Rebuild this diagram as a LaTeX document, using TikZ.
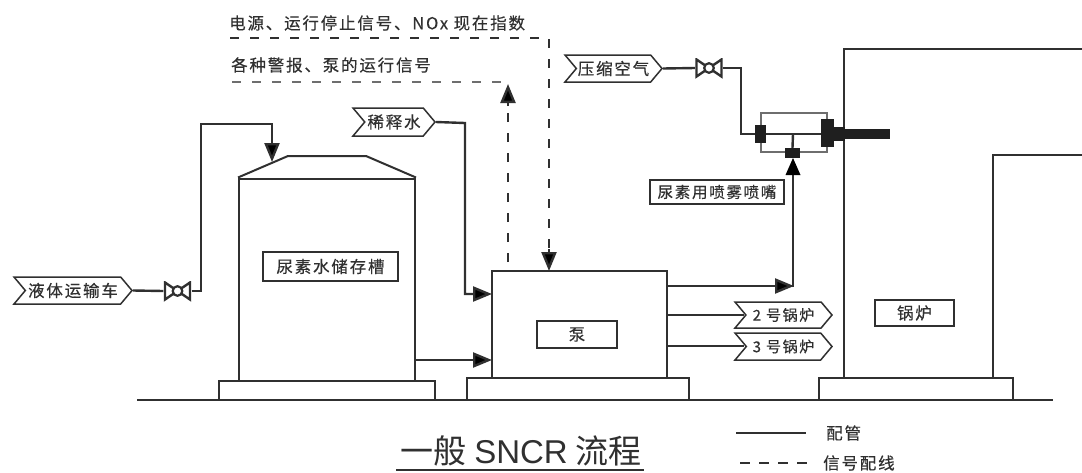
\documentclass[tikz,border=0pt]{standalone}
\usepackage{fontspec}
\setmainfont{Noto Sans CJK SC}
\newfontfamily\lbl[LetterSpace=11,FakeBold=0.35]{Noto Sans CJK SC}
\newfontfamily\latn{Liberation Sans}
\usetikzlibrary{arrows.meta,shapes.symbols,calc}
\definecolor{ink}{HTML}{303030}
\tikzset{
  every node/.style={text=ink,inner sep=0pt,font=\lbl\fontsize{16.5}{16.5}\selectfont},
  outline/.style={draw=ink,line width=2pt,line join=miter},
  thinout/.style={draw=ink!70,line width=1.3pt},
  pipe/.style={draw=ink,line width=2.4pt,line join=miter},
  sig/.style={draw=ink,line width=1.8pt,dash pattern=on 9pt off 11pt},
  sigb/.style={draw=ink!70,line width=2.2pt,dash pattern=on 9pt off 11pt},
  head/.style={-{Triangle[length=19pt,width=15pt,fill=black]}},
  labelbox/.style={draw=ink,line width=1.8pt,anchor=center},
  tagbox/.style={signal,signal from=west,signal to=east,signal pointer angle=100,draw=ink,line width=1.5pt,anchor=center},
  solid block/.style={fill=black!88,draw=none},
  valvebox/.style={minimum width=28pt,minimum height=20pt,anchor=center,
    path picture={
      \draw[ink,line width=2.4pt] ($(path picture bounding box.north west)+(1.5,1.5)$) -- ($(path picture bounding box.south east)+(-1.5,-1.5)$) -- ($(path picture bounding box.north east)+(-1.5,1.5)$) -- ($(path picture bounding box.south west)+(1.5,-1.5)$) -- cycle;
      \draw[ink,line width=2.2pt,fill=white] (path picture bounding box.center) circle (4.8pt);
    }},
}
\begin{document}
\begin{tikzpicture}[x=1pt,y=-1pt]
\useasboundingbox[fill=white] (0,0) rectangle (1082,472);
% ground and bases
\coordinate (g1) at (137,400); \coordinate (g2) at (1053,400);
\draw[outline] (g1) -- (g2);
\draw[outline] (219,400) -- (219,381) -- (435,381) -- (435,400);
\draw[outline] (467,400) -- (467,378) -- (689,378) -- (689,400);
\draw[outline] (819,400) -- (819,378) -- (1013,378) -- (1013,400);
% tank
\node[minimum width=176pt,minimum height=202pt,draw=ink,line width=2pt,anchor=center] (tank) at (327,279.5) {};
\draw[outline] (tank.north west) -- (288,156) -- (366,156) -- (tank.north east);
% pump
\node[minimum width=175pt,minimum height=107pt,draw=ink,line width=2pt,anchor=center] (pump) at (579.5,324.5) {};
% boiler
\draw[outline] (844,378) -- (844,49) -- (1082,49);
\draw[outline] (993,378) -- (993,155) -- (1082,155);
% labels in boxes
\node[labelbox,minimum width=135pt,minimum height=29pt] (tankl) at (330.5,266.5) {尿素水储存槽};
\node[labelbox,minimum width=80pt,minimum height=27pt] (pumpl) at (577,334.5) {泵};
\node[labelbox,minimum width=79pt,minimum height=26pt] (boill) at (914.5,313) {锅炉};
\node[labelbox,minimum width=134pt,minimum height=24pt] (nozl) at (717,192) {\fontsize{15.5}{15.5}\selectfont 尿素用喷雾喷嘴};
% tags
\node[tagbox,minimum width=118pt,minimum height=27pt] (truck) at (73,290.5) {液体运输车};
\node[tagbox,minimum width=82pt,minimum height=28pt] (dil) at (394,122) {稀释水};
\node[tagbox,minimum width=97pt,minimum height=27pt] (air) at (613.5,68.5) {压缩空气};
\node[tagbox,minimum width=97pt,minimum height=26pt] (b2) at (783.5,315) {\fontsize{15}{15}\selectfont 2 号锅炉};
\node[tagbox,minimum width=97pt,minimum height=27pt] (b3) at (783.5,346.5) {\fontsize{15}{15}\selectfont 3 号锅炉};
% valves
\node[valvebox] (v1) at (177.5,291) {};
\node[valvebox] (v2) at (709,68) {};
% pipes
\coordinate (c1) at (201,291); \coordinate (c2) at (201,124); \coordinate (c3) at (272,124); \coordinate (c4) at (272,162);
\draw[pipe] (truck.east) -- (v1.west);
\draw[pipe,head] (v1.east) -- (c1) -- (c2) -- (c3) -- (c4);
\coordinate (d1) at (465,123); \coordinate (d2) at (465,294); \coordinate (d3) at (492,294);
\draw[pipe,head] (dil.east) -- (d1) -- (d2) -- (d3);
\coordinate (t1) at (415,360); \coordinate (t2) at (492,360);
\draw[pipe,head] (t1) -- (t2);
% air line and nozzle
\coordinate (a1) at (741,68); \coordinate (a2) at (741,134); \coordinate (a3) at (822,134);
\draw[pipe] (air.east) -- (v2.west);
\draw[pipe] (v2.east) -- (a1) -- (a2) -- (a3);
\draw[thinout] (761,125) -- (761,113) -- (827,113) -- (827,120);
\draw[thinout] (761,143) -- (761,152) -- (827,152) -- (827,146);
\node[solid block,minimum width=11pt,minimum height=18pt,anchor=center] (nb1) at (760.5,134) {};
\node[solid block,minimum width=13pt,minimum height=28pt,anchor=center] (nb2) at (827.5,133) {};
\node[solid block,minimum width=11pt,minimum height=14pt,anchor=center] (nb3) at (839,134) {};
\node[solid block,minimum width=46pt,minimum height=10pt,anchor=center] (rod) at (867,134) {};
\node[solid block,minimum width=15pt,minimum height=10pt,anchor=center] (nb4) at (792.5,153) {};
\coordinate (j0) at (793,134);
\draw[pipe] (j0) -- (nb4.north);
% pump to nozzle
\coordinate (p1) at (667,286); \coordinate (p2) at (794,286); \coordinate (p3) at (793,287); \coordinate (p4) at (793,172);
\draw[pipe,head] (p1) -- (p2);
\draw[pipe] (p3) -- (p4);
\fill[black] (785.5,175) -- (793,158) -- (800.5,175) -- cycle;
% pump to boilers
\coordinate (q2) at (667,315); \coordinate (q3) at (667,346);
\draw[pipe] (q2) -- (744,315);
\draw[pipe] (q3) -- (744,346);
% signals
\coordinate (s1) at (230,38); \coordinate (s2) at (549,38); \coordinate (s3) at (549,271);
\draw[sig] (s1) -- (s2) -- (549,250);
\draw[pipe,head] (549,249) -- (s3);
\coordinate (s4) at (232,82); \coordinate (s5) at (507,82); \coordinate (s6) at (508,262); \coordinate (s7) at (508,84);
\draw[sigb] (s4) -- (s5);
\draw[sig] (s6) -- (508,104);
\draw[pipe,head] (508,106) -- (s7);
% top texts
\node[anchor=west] (t1l) at (229,23) {电源、运行停止信号、NOx 现在指数};
\node[anchor=west] (t2l) at (231,65) {各种警报、泵的运行信号};
% legend
\coordinate (l1) at (736,433); \coordinate (l2) at (806,433);
\draw[pipe] (l1) -- (l2);
\coordinate (l3) at (740,463); \coordinate (l4) at (812,463);
\draw[pipe,dash pattern=on 10pt off 9pt] (l3) -- (l4);
\node[anchor=west] (pl) at (826,433) {配管};
\node[anchor=west] (xl) at (823,463) {信号配线};
% title
\node[anchor=center,font=\fontsize{33}{33}\selectfont,text=ink] (title) at (521,451) {一般 {\latn SNCR} 流程};
\coordinate (u1) at (396,470); \coordinate (u2) at (644,470);
\draw[pipe] (u1) -- (u2);
\end{tikzpicture}
\end{document}
